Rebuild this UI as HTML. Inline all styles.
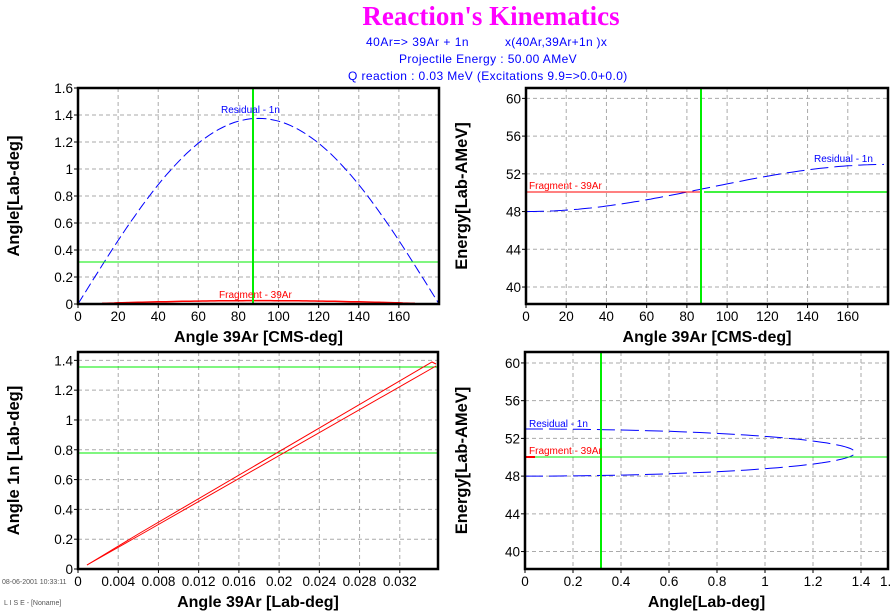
<!DOCTYPE html>
<html><head><meta charset="utf-8"><style>
html,body{margin:0;padding:0;background:#fff;}
svg{display:block;}
text{font-family:"Liberation Sans",sans-serif;}
</style></head><body>
<svg id="s" width="890" height="613" xmlns="http://www.w3.org/2000/svg">
<rect width="890" height="613" fill="#fff"/>
<text x="491" y="25" text-anchor="middle" font-weight="bold" font-size="27" fill="#ff00ff" style="font-family:'Liberation Serif',serif">Reaction's Kinematics</text>
<text x="366" y="46" font-size="12" fill="#0000ff" letter-spacing="0.5">40Ar=&gt; 39Ar +  1n</text>
<text x="505" y="46" font-size="12" fill="#0000ff" letter-spacing="0.3">x(40Ar,39Ar+1n )x</text>
<text x="399" y="63" font-size="12" fill="#0000ff" letter-spacing="0.4">Projectile Energy :  50.00 AMeV</text>
<text x="348" y="80" font-size="12" fill="#0000ff" letter-spacing="0.4">Q reaction : 0.03 MeV  (Excitations 9.9=&gt;0.0+0.0)</text>
<text x="2" y="584" font-size="7" fill="#555">08-06-2001  10:33:11</text>
<text x="4" y="605" font-size="7" fill="#555">L I S E - [Noname]</text>
<g id="g"></g>
</svg>
<script>
var g=document.getElementById('g'),h='';
function P(o){
 var L=o.L,R=o.R,T=o.T,B=o.B;
 var X=function(v){return L+(v-o.x0)/(o.x1-o.x0)*(R-L)};
 var Y=function(v){return B-(v-o.y0)/(o.y1-o.y0)*(B-T)};
 o.X=X;o.Y=Y;
 o.xt.forEach(function(t){var x=X(t[0]);
  if(x>L+1&&x<R-1)h+='<line x1="'+x+'" y1="'+T+'" x2="'+x+'" y2="'+B+'" stroke="#aaa" stroke-dasharray="4,3"/>';
  h+='<line x1="'+x+'" y1="'+B+'" x2="'+x+'" y2="'+(B+4)+'" stroke="#000"/>';
  h+='<text x="'+x+'" y="'+(B+17)+'" font-size="13.5" text-anchor="middle">'+t[1]+'</text>';});
 o.yt.forEach(function(t){var y=Y(t[0]);
  if(y>T+1&&y<B-1)h+='<line x1="'+L+'" y1="'+y+'" x2="'+R+'" y2="'+y+'" stroke="#aaa" stroke-dasharray="4,3"/>';
  h+='<line x1="'+(L-4)+'" y1="'+y+'" x2="'+L+'" y2="'+y+'" stroke="#000"/>';
  h+='<text x="'+(L-5)+'" y="'+(y+5)+'" font-size="13.5" text-anchor="end">'+t[1]+'</text>';});
 h+='<text x="'+((L+R)/2)+'" y="'+(B+38)+'" font-size="16" font-weight="bold" text-anchor="middle">'+o.xl+'</text>';
 h+='<text transform="translate('+o.ylx+','+((T+B)/2)+') rotate(-90)" font-size="16.5" font-weight="bold" text-anchor="middle">'+o.yl+'</text>';
 return o;
}
function frame(o){h+='<rect x="'+o.L+'" y="'+o.T+'" width="'+(o.R-o.L)+'" height="'+(o.B-o.T)+'" fill="none" stroke="#000" stroke-width="2.5"/>';}
function path(o,pts,c,dash,w){var d='';pts.forEach(function(p,i){d+=(i?'L':'M')+o.X(p[0]).toFixed(1)+' '+o.Y(p[1]).toFixed(1)});
 h+='<path d="'+d+'" fill="none" stroke="'+c+'" stroke-width="'+(w||1)+'"'+(dash?' stroke-dasharray="'+dash+'"':'')+'/>';}
var r=Math.PI/180,i,pts;
var a=P({L:78,R:439,T:88,B:304,x0:0,x1:180,y0:0,y1:1.6,
 xt:[[0,0],[20,20],[40,40],[60,60],[80,80],[100,100],[120,120],[140,140],[160,160]],
 yt:[[0,0],[0.2,0.2],[0.4,0.4],[0.6,0.6],[0.8,0.8],[1,1],[1.2,1.2],[1.4,1.4],[1.6,1.6]],
 xl:'Angle 39Ar [CMS-deg]',yl:'Angle[Lab-deg]',ylx:19});
pts=[];for(i=0;i<=180;i+=2)pts.push([i,1.375*Math.sin(i*r)]);path(a,pts,'#0000ff','10,4');
pts=[];for(i=12;i<=168;i+=2)pts.push([i,0.025*Math.sin(i*r)]);path(a,pts,'#ff0000','',1.5);
h+='<line x1="78" y1="262" x2="439" y2="262" stroke="#00ee00"/>';
h+='<line x1="253" y1="88" x2="253" y2="304" stroke="#00ee00" stroke-width="2"/>';
h+='<text x="221" y="113" font-size="10" fill="#0000ff">Residual -  1n</text>';
h+='<text x="219" y="298" font-size="10" fill="#ff0000">Fragment - 39Ar</text>';
frame(a);
var b=P({L:526,R:888,T:88,B:304,x0:0,x1:180,y0:38.2,y1:61.1,
 xt:[[0,0],[20,20],[40,40],[60,60],[80,80],[100,100],[120,120],[140,140],[160,160]],
 yt:[[40,40],[44,44],[48,48],[52,52],[56,56],[60,60]],
 xl:'Angle 39Ar [CMS-deg]',yl:'Energy[Lab-AMeV]',ylx:467});
pts=[];for(i=0;i<=178;i+=2)pts.push([i,50.5-2.5*Math.cos(i*r)]);path(b,pts,'#0000ff','18,6');
h+='<line x1="526" y1="192" x2="701" y2="192" stroke="#ff0000"/>';
h+='<line x1="704" y1="192" x2="888" y2="192" stroke="#00ee00" stroke-width="1.5"/>';
h+='<line x1="701" y1="88" x2="701" y2="304" stroke="#00ee00" stroke-width="2"/>';
h+='<text x="814" y="162" font-size="10" fill="#0000ff">Residual -  1n</text>';
h+='<text x="529" y="189" font-size="10" fill="#ff0000">Fragment - 39Ar</text>';
frame(b);
var c=P({L:78,R:438,T:352,B:569,x0:0,x1:0.0358,y0:0,y1:1.456,
 xt:[[0,0],[0.004,'0.004'],[0.008,'0.008'],[0.012,'0.012'],[0.016,'0.016'],[0.02,'0.02'],[0.024,'0.024'],[0.028,'0.028'],[0.032,'0.032']],
 yt:[[0,0],[0.2,0.2],[0.4,0.4],[0.6,0.6],[0.8,0.8],[1,1],[1.2,1.2],[1.4,1.4]],
 xl:'Angle 39Ar [Lab-deg]',yl:'Angle  1n  [Lab-deg]',ylx:19});
h+='<line x1="78" y1="367" x2="438" y2="367" stroke="#00ee00"/>';
h+='<line x1="78" y1="453" x2="438" y2="453" stroke="#00ee00"/>';
h+='<path d="M87 565 L140 535 L436 366" stroke="#ff0000" fill="none"/>';
h+='<path d="M87 565 L140 533 L432 362 L436 364" stroke="#ff0000" fill="none"/>';
frame(c);
var d=P({L:525,R:888,T:352,B:569,x0:0,x1:1.5125,y0:38.15,y1:61.16,
 xt:[[0,0],[0.2,0.2],[0.4,0.4],[0.6,0.6],[0.8,0.8],[1,1],[1.2,1.2],[1.4,1.4]],
 yt:[[40,40],[44,44],[48,48],[52,52],[56,56],[60,60]],
 xl:'Angle[Lab-deg]',yl:'Energy[Lab-AMeV]',ylx:467});
h+='<text x="880" y="586" font-size="13.5">1.</text>';
pts=[];for(i=0;i<=180;i+=2)pts.push([1.375*Math.sin(i*r),50.5-2.5*Math.cos(i*r)]);path(d,pts,'#0000ff','18,6');
h+='<line x1="525" y1="457" x2="888" y2="457" stroke="#00ee00"/>';
h+='<line x1="525" y1="457" x2="535" y2="457" stroke="#ff0000" stroke-width="2"/>';
h+='<line x1="601" y1="352" x2="601" y2="569" stroke="#00ee00" stroke-width="2"/>';
h+='<text x="529" y="427" font-size="10" fill="#0000ff">Residual -  1n</text>';
h+='<text x="529" y="454" font-size="10" fill="#ff0000">Fragment - 39Ar</text>';
frame(d);
g.innerHTML=h;
</script>
</body></html>
